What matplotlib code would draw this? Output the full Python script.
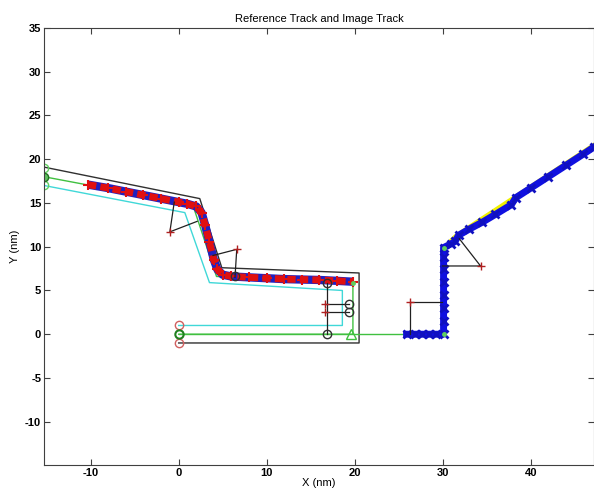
import matplotlib
matplotlib.use('Agg')
import matplotlib.pyplot as plt

plt.rcParams['font.family'] = ['Liberation Sans', 'DejaVu Sans']
plt.rcParams['axes.unicode_minus'] = False

# reference track outline (outer / centre / inner)
outer_x = [-15.3, 2.4, 4.9, 20.5, 20.5, 0.0]
outer_y = [19.1, 15.5, 7.6, 7.0, -1.0, -1.0]
centre_x = [-15.3, 1.6, 4.3, 19.8, 19.8, 0.0]
centre_y = [18.0, 14.8, 6.6, 5.9, 0.0, 0.0]
inner_x = [-15.3, 0.7, 3.5, 18.6, 18.6, 0.0]
inner_y = [17.0, 13.9, 5.9, 5.0, 1.0, 1.0]

# second reference segment
ref2_x = [0.0, 30.1, 30.1]
ref2_y = [0.0, 0.0, 9.9]
ref3_x = [30.2, 31.5, 38.0, 47.2]
ref3_y = [10.0, 11.3, 15.6, 21.7]

# image track, first part
img1_x = [-10.3, -8.0, -6.0, -4.0, -2.0, 0.0, 1.0, 2.0, 2.6, 3.0, 3.5, 4.0, 4.4,
          5.0, 6.0, 8.0, 10.0, 12.0, 14.0, 16.0, 18.0, 19.8]
img1_y = [17.1, 16.7, 16.3, 15.9, 15.5, 15.1, 14.9, 14.6, 13.9, 12.5, 10.5, 8.5, 7.4,
          6.8, 6.6, 6.5, 6.4, 6.3, 6.25, 6.2, 6.1, 6.0]

# image track, second part
img2_x = [25.9, 26.8, 27.6, 28.4, 29.2, 30.1, 30.1, 30.1, 30.1, 30.1, 30.1, 30.1,
          30.1, 30.9, 31.4, 31.8, 33.0, 34.5, 36.0, 37.8, 38.3, 40.0, 42.0, 44.0,
          46.0, 47.2]
img2_y = [0.0, 0.0, 0.0, 0.0, 0.0, 0.0, 1.5, 3.0, 4.5, 6.0, 7.5, 8.8, 9.9, 10.3,
          10.6, 11.3, 12.0, 12.8, 13.7, 14.8, 15.6, 16.7, 18.0, 19.3, 20.6, 21.4]

# sensor points and the lines to the track
sens_x = [-1.0, 6.6, 34.3, 26.3, 16.6, 16.6]
sens_y = [11.7, 9.7, 7.8, 3.7, 3.4, 2.5]
links = [
    ([-0.5, -1.0, 2.1], [15.1, 11.7, 12.9]),
    ([3.9, 6.6, 6.4], [9.0, 9.7, 6.5]),
    ([31.9, 34.3, 30.0], [10.9, 7.8, 7.8]),
    ([26.3, 26.3, 29.9], [0.0, 3.7, 3.7]),
    ([16.6, 19.4], [3.4, 3.4]),
    ([16.6, 19.4], [2.5, 2.5]),
    ([16.9, 16.9], [5.9, 0.0]),
]
hit_x = [16.9, 16.9, 19.4, 19.4, 6.4]
hit_y = [0.0, 5.9, 3.4, 2.5, 6.6]

fig = plt.figure(figsize=(5.94, 4.91), dpi=100)
ax = fig.add_axes([0.0741, 0.052, 0.926, 0.891])

ax.plot(outer_x, outer_y, color='#303030', lw=1)
ax.plot(inner_x, inner_y, color='#40d8d8', lw=1)
ax.plot(centre_x, centre_y, color='#40c040', lw=1)
ax.plot(ref2_x, ref2_y, color='#40c040', lw=1)
ax.plot(ref3_x, ref3_y, color='#f0f000', lw=2.5)

# image tracks
ax.plot(img1_x, img1_y, color='#2020c0', lw=6, solid_capstyle='butt')
ax.plot(img1_x, img1_y, color='#e01010', lw=5, dashes=(1.2, 0.6))
ax.plot(img1_x, img1_y, ls='none', marker='+', color='#e01010', ms=7, mew=1.5)
ax.plot(img2_x, img2_y, color='#1010e0', lw=5)
ax.plot(img2_x, img2_y, ls='none', marker='x', color='#1010c0', ms=6, mew=2)

for lx, ly in links:
    ax.plot(lx, ly, color='#202020', lw=0.9)
ax.plot(sens_x, sens_y, ls='none', marker='+', color='#b02020', ms=6, mew=1)
ax.plot(hit_x, hit_y, ls='none', marker='o', mfc='none', mec='#303030', ms=6, mew=1)

# start / end markers
ax.plot([-15.3, -15.3], [19.0, 17.0], ls='none', marker='o', mfc='none', mec='#60d060', ms=6)
ax.plot([-15.3], [18.0], ls='none', marker='o', mfc='#60c060', mec='#207020', ms=6)
ax.plot([0.0, 0.0], [1.0, -1.0], ls='none', marker='o', mfc='none', mec='#d06060', ms=6)
ax.plot([0.0], [0.0], ls='none', marker='o', mfc='none', mec='#208020', ms=6, mew=1.5)
ax.plot([19.6], [0.0], ls='none', marker='^', mfc='none', mec='#40c040', ms=7)
ax.plot([19.8, 30.1, 30.1], [5.9, 0.0, 9.9], ls='none', marker='.', color='#60d060', ms=5)

ax.set_xlim(-15.3, 47.2)
ax.set_ylim(-15, 35)
ax.set_xticks([-10, 0, 10, 20, 30, 40])
ax.set_yticks(range(-10, 40, 5))
ax.tick_params(direction='in', top=True, right=True, labelsize=8, length=4,
               color='#404040', pad=2)
for lab in ax.get_xticklabels() + ax.get_yticklabels():
    lab.set_fontweight('bold')
for s in ax.spines.values():
    s.set_color('#404040')
ax.set_title('Reference Track and Image Track', fontsize=8, pad=4)
ax.set_xlabel('X (nm)', fontsize=8, labelpad=0)
ax.set_ylabel('Y (nm)', fontsize=8, labelpad=4)

fig.savefig('out.png', dpi=100)
